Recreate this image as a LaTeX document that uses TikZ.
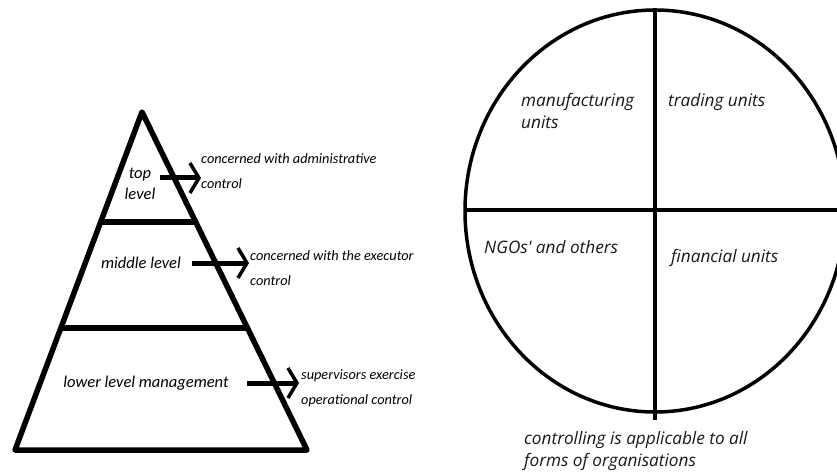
\documentclass[tikz,border=0pt]{standalone}
\usepackage{fontspec}
\setmainfont{Carlito}
\newfontfamily\circfont{Open Sans}
\usetikzlibrary{arrows.meta,shapes.geometric}
\tikzset{
  pyr/.style={line width=5.5pt, line join=round, line cap=round},
  divider/.style={line width=6.5pt},
  ring/.style={line width=3.5pt},
  quad/.style={line width=3.5pt},
  plab/.style={font=\fontsize{16.5}{21}\selectfont\itshape, inner sep=0pt, align=center},
  dlab/.style={font=\fontsize{14.3}{25.5}\selectfont\itshape, inner sep=0pt, align=left, anchor=west},
  clab/.style={font=\circfont\fontsize{17.2}{22.5}\selectfont\itshape, text=black!90, inner sep=0pt, align=left, anchor=west},
  notelab/.style={clab, font=\circfont\fontsize{17.2}{21.5}\selectfont\itshape},
  arr/.style={line width=5pt, -{Straight Barb[length=9pt, width=30pt, line width=3.5pt]}}
}
\begin{document}
\begin{tikzpicture}[x=1pt,y=-1pt]
\useasboundingbox (0,0) rectangle (837,473);
% pyramid
\coordinate (apex) at (142,112);
\coordinate (bl) at (15,450);
\coordinate (br) at (307,450);
\draw[pyr] (apex) -- (bl) -- (br) -- cycle;
\coordinate (d1l) at (101,222);
\coordinate (d1r) at (195,222);
\coordinate (d2l) at (61,328);
\coordinate (d2r) at (246,328);
\draw[divider] (d1l) -- (d1r);
\draw[divider] (d2l) -- (d2r);
% level labels
\node[plab] (top) at (140,184) {top\\level};
\node[plab] (mid) at (141,263) {middle level};
\node[plab] (low) at (146,383) {lower level management};
% descriptions
\node[dlab] (topdesc) at (201,171) {concerned with administrative\\control};
\node[dlab] (middesc) at (250,268) {concerned with the executor\\control};
\node[dlab] (lowdesc) at (301,388) {supervisors exercise\\operational control};
% arrows
\coordinate (t0) at (160,178);
\coordinate (t1) at (201,178);
\coordinate (m0) at (192,263);
\coordinate (m1) at (249,263);
\coordinate (l0) at (247,383);
\coordinate (l1) at (299,383);
\draw[arr] (t0) -- (t1);
\draw[arr] (m0) -- (m1);
\draw[arr] (l0) -- (l1);
% circle
\node[draw, ring, ellipse, minimum width=380pt, minimum height=402pt, inner sep=0pt] (circ) at (655,211) {};
\coordinate (vt) at (655,8);
\coordinate (vb) at (655,420);
\coordinate (hl) at (465,210);
\coordinate (hr) at (840,210);
\draw[quad] (vt) -- (vb);
\draw[quad] (hl) -- (hr);
\node[clab] (manu) at (521,111) {manufacturing\\units};
\node[clab] (trad) at (668,102) {trading units};
\node[clab] (ngo) at (484,247) {NGOs' and others};
\node[clab] (fin) at (671,258) {financial units};
\node[notelab] (note) at (524,451) {controlling is applicable to all\\forms of organisations};
\end{tikzpicture}
\end{document}
